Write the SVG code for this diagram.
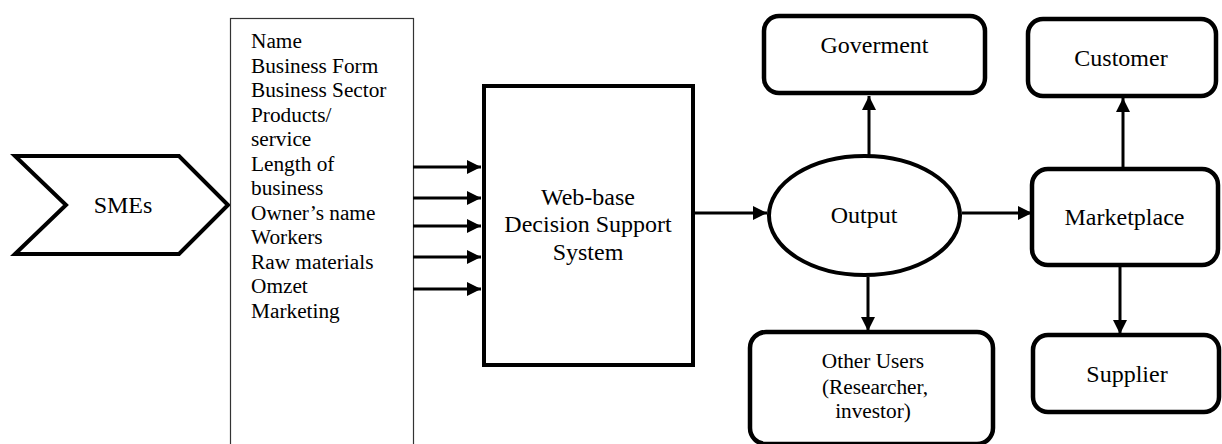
<svg xmlns="http://www.w3.org/2000/svg" width="1222" height="444" viewBox="0 0 1222 444">
<defs>
<marker id="ah" markerUnits="userSpaceOnUse" markerWidth="14" markerHeight="14" refX="14" refY="7" orient="auto" viewBox="0 0 14 14">
<path d="M0,0 L14,7 L0,14 Z" fill="#000"/>
</marker>
<style>
.shape{fill:#fff;stroke:#000;stroke-width:4;stroke-linejoin:miter}
.rbox{fill:#fff;stroke:#000;stroke-width:4.5}
.thin{fill:#fff;stroke:#333;stroke-width:1.2}
.conn line{stroke:#000;stroke-width:3;marker-end:url(#ah)}
text{font-family:"Liberation Serif","Times New Roman",serif;fill:#000}
.lbl{font-size:24px;text-anchor:middle}
.lst{font-size:21.3px}
.sm{font-size:21.3px;text-anchor:middle}
</style>
</defs>
<rect width="1222" height="444" fill="#fff"/>

<g id="smes">
<polygon class="shape" points="15,156 179,156 228,205 179,254 15,254 66,205"/>
<text class="lbl" x="123" y="213">SMEs</text>
</g>

<g id="attributes">
<rect class="thin" x="230.5" y="18.5" width="183" height="440"/>
<text class="lst" x="251">
<tspan x="251" y="48.3">Name</tspan>
<tspan x="251" y="72.8">Business Form</tspan>
<tspan x="251" y="97.3">Business Sector</tspan>
<tspan x="251" y="121.8">Products/</tspan>
<tspan x="251" y="146.3">service</tspan>
<tspan x="251" y="170.8">Length of</tspan>
<tspan x="251" y="195.3">business</tspan>
<tspan x="251" y="219.8">Owner’s name</tspan>
<tspan x="251" y="244.3">Workers</tspan>
<tspan x="251" y="268.8">Raw materials</tspan>
<tspan x="251" y="293.3">Omzet</tspan>
<tspan x="251" y="317.8">Marketing</tspan>
</text>
</g>

<g id="dss">
<rect class="shape" x="484" y="86" width="209" height="279"/>
<text class="lbl" x="588" y="205">Web-base</text>
<text class="lbl" x="588" y="232">Decision Support</text>
<text class="lbl" x="588" y="260">System</text>
</g>

<g id="output">
<ellipse class="shape" cx="864.5" cy="215.5" rx="95.5" ry="59.5"/>
<text class="lbl" x="864" y="222.5">Output</text>
</g>

<g id="goverment">
<rect class="rbox" x="764" y="16" width="221" height="77" rx="15"/>
<text class="lbl" x="874.5" y="53">Goverment</text>
</g>

<g id="other-users">
<rect class="rbox" x="750" y="332" width="243" height="112" rx="16"/>
<text class="sm" x="873" y="368">Other Users</text>
<text class="sm" x="875" y="394">(Researcher,</text>
<text class="sm" x="873" y="418">investor)</text>
</g>

<g id="marketplace">
<rect class="rbox" x="1032" y="169" width="186" height="96" rx="16"/>
<text class="lbl" x="1124.5" y="225">Marketplace</text>
</g>

<g id="customer">
<rect class="rbox" x="1028" y="19" width="188" height="77" rx="15"/>
<text class="lbl" x="1121" y="66">Customer</text>
</g>

<g id="supplier">
<rect class="rbox" x="1033" y="335" width="186" height="77" rx="15"/>
<text class="lbl" x="1127" y="382">Supplier</text>
</g>

<g id="connectors" class="conn">
<line x1="413" y1="167" x2="481" y2="167"/>
<line x1="413" y1="198" x2="481" y2="198"/>
<line x1="413" y1="226" x2="481" y2="226"/>
<line x1="413" y1="257" x2="481" y2="257"/>
<line x1="413" y1="289" x2="481" y2="289"/>
<line x1="695" y1="213" x2="767" y2="213"/>
<line x1="869" y1="155" x2="869" y2="96"/>
<line x1="868" y1="277" x2="868" y2="331"/>
<line x1="962" y1="213" x2="1032" y2="213"/>
<line x1="1123" y1="167" x2="1123" y2="98"/>
<line x1="1120" y1="267" x2="1120" y2="334"/>
</g>
</svg>
